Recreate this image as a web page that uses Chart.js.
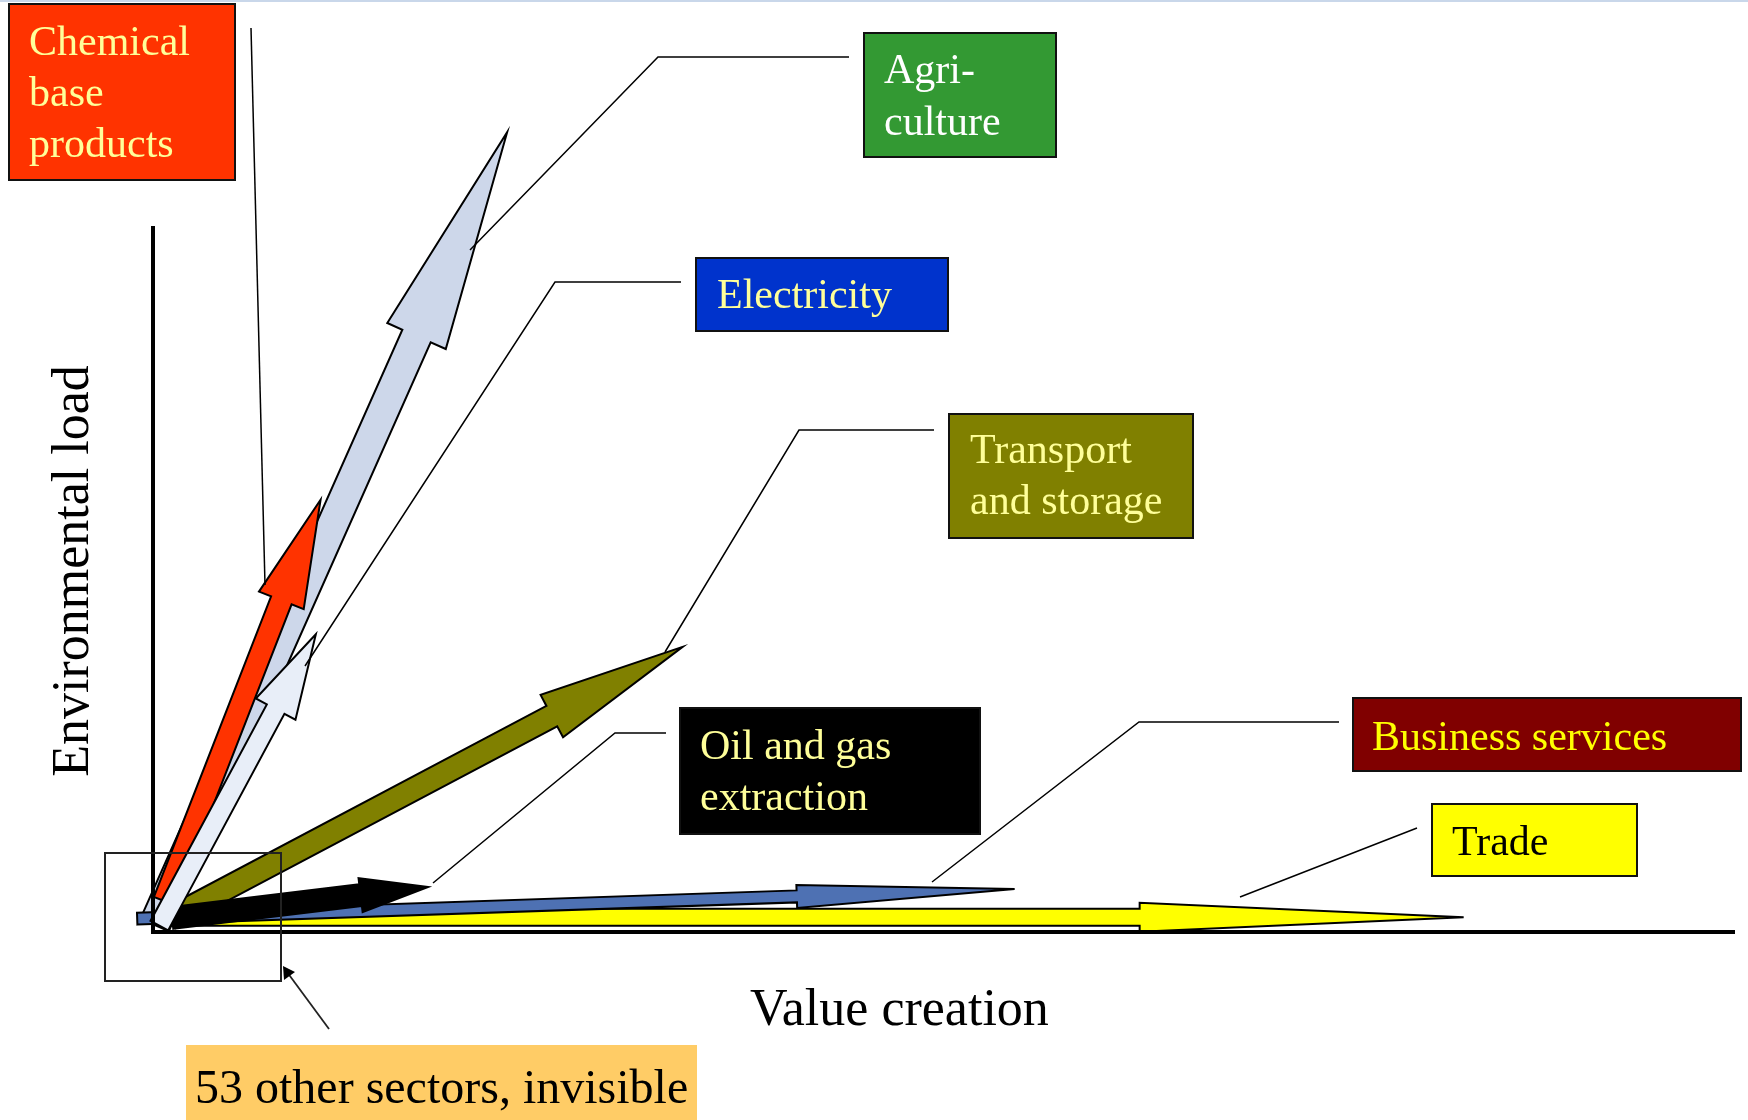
<!DOCTYPE html>
<html>
<head>
<meta charset="utf-8">
<title>Value creation and environmental load by sector</title>
<script src="https://cdn.jsdelivr.net/npm/chart.js@4.4.1/dist/chart.umd.min.js"></script>
<style>
  html, body { margin: 0; padding: 0; background: #fff; }
  canvas { display: block; }
</style>
</head>
<body>
<canvas id="chart" width="1748" height="1120"></canvas>
<script>
// sectors in drawing order (first is drawn at the bottom)
const sectors = ["Trade", "Agriculture", "Transport and storage", "Business services",
                 "Oil and gas extraction", "Chemical base products", "Electricity"];
// where each arrow starts
const tailValue = [0.4, 0.1, 1.1, -1.0, 1.2, 0.7, 0.4];
const tailLoad = [2.1, 1.0, 2.0, 1.9, 2.0, 4.4, 0.9];
// where each arrow points to
const valueCreation = [82.9, 22.4, 33.5, 54.5, 17.4, 10.6, 10.3];
const environmentalLoad = [2.1, 113.6, 40.5, 6.1, 6.4, 61.4, 42.3];

const FONT = '"Liberation Serif", "Times New Roman", serif';

// arrow looks (pixels)
const arrowStyles = [
    { fill: "#FFFF00", shaft: 17, head: 29, headLen: 324 },
    { fill: "#CDD7EA", shaft: 31, head: 64, headLen: 223 },
    { fill: "#808000", shaft: 23, head: 48, headLen: 148 },
    { fill: "#4E71B3", shaft: 12, head: 23, headLen: 218 },
    { fill: "#000000", shaft: 22, head: 34, headLen: 68 },
    { fill: "#FF3300", shaft: 22, head: 48, headLen: 108 },
    { fill: "#E8EEF8", shaft: 20, head: 45, headLen: 85 },
];

// label boxes and their leader lines (pixels)
const labelBoxes = [
    { lines: ["Chemical", "base", "products"], box: [9, 4, 226, 176], fill: "#FF3300", color: "#FFFF99",
      textX: 29, baselines: [55, 106, 157], leader: [[251, 28], [265, 585]] },
    { lines: ["Agri-", "culture"], box: [864, 33, 192, 124], fill: "#339933", color: "#FFFFFF",
      textX: 884, baselines: [83, 135], leader: [[849, 57], [658, 57], [470, 250]] },
    { lines: ["Electricity"], box: [696, 258, 252, 73], fill: "#0033CC", color: "#FFFF99",
      textX: 717, baselines: [308], leader: [[681, 282], [555, 282], [305, 666]] },
    { lines: ["Transport", "and storage"], box: [949, 414, 244, 124], fill: "#808000", color: "#FFFF99",
      textX: 970, baselines: [463, 514], leader: [[934, 430], [799, 430], [665, 652]] },
    { lines: ["Oil and gas", "extraction"], box: [680, 708, 300, 126], fill: "#000000", color: "#FFFF99",
      textX: 700, baselines: [759, 810], leader: [[666, 733], [615, 733], [433, 883]] },
    { lines: ["Business services"], box: [1353, 698, 388, 73], fill: "#800000", color: "#FFFF00",
      textX: 1372, baselines: [750], leader: [[1339, 722], [1139, 722], [932, 882]] },
    { lines: ["Trade"], box: [1432, 804, 205, 72], fill: "#FFFF00", color: "#000000",
      textX: 1452, baselines: [855], leader: [[1417, 828], [1240, 897]] },
];

function blockArrow(ctx, x0, y0, x1, y1, s) {
    const dx = x1 - x0, dy = y1 - y0, len = Math.hypot(dx, dy);
    const ux = dx / len, uy = dy / len, nx = -uy, ny = ux;
    const bx = x1 - ux * s.headLen, by = y1 - uy * s.headLen;
    const w = s.shaft / 2, h = s.head / 2;
    ctx.beginPath();
    ctx.moveTo(x0 + nx * w, y0 + ny * w);
    ctx.lineTo(bx + nx * w, by + ny * w);
    ctx.lineTo(bx + nx * h, by + ny * h);
    ctx.lineTo(x1, y1);
    ctx.lineTo(bx - nx * h, by - ny * h);
    ctx.lineTo(bx - nx * w, by - ny * w);
    ctx.lineTo(x0 - nx * w, y0 - ny * w);
    ctx.closePath();
    ctx.fillStyle = s.fill;
    ctx.fill();
    ctx.lineWidth = 2;
    ctx.lineJoin = "miter";
    ctx.strokeStyle = "#000";
    ctx.stroke();
}

const arrowPlugin = {
    id: "sectorArrows",
    afterDatasetsDraw(chart) {
        const ctx = chart.ctx, xs = chart.scales.x, ys = chart.scales.y;
        ctx.save();
        sectors.forEach((name, i) => {
            blockArrow(ctx,
                xs.getPixelForValue(tailValue[i]), ys.getPixelForValue(tailLoad[i]),
                xs.getPixelForValue(valueCreation[i]), ys.getPixelForValue(environmentalLoad[i]),
                arrowStyles[i]);
        });
        ctx.restore();
    }
};

const labelPlugin = {
    id: "sectorLabels",
    afterDraw(chart) {
        const ctx = chart.ctx;
        ctx.save();
        // thin line along the top of the slide
        ctx.fillStyle = "#C9D7EA";
        ctx.fillRect(0, 0, chart.width, 2);

        // leader lines
        ctx.strokeStyle = "#000";
        ctx.lineWidth = 1.5;
        labelBoxes.forEach(l => {
            ctx.beginPath();
            l.leader.forEach((p, k) => k ? ctx.lineTo(p[0], p[1]) : ctx.moveTo(p[0], p[1]));
            ctx.stroke();
        });

        // boxes
        ctx.font = "42px " + FONT;
        ctx.textBaseline = "alphabetic";
        ctx.textAlign = "left";
        labelBoxes.forEach(l => {
            const [x, y, w, h] = l.box;
            ctx.fillStyle = l.fill;
            ctx.fillRect(x, y, w, h);
            ctx.lineWidth = 2;
            ctx.strokeStyle = "#111";
            ctx.strokeRect(x, y, w, h);
            ctx.fillStyle = l.color;
            l.lines.forEach((t, k) => ctx.fillText(t, l.textX, l.baselines[k]));
        });

        // box round the origin and its pointer
        ctx.strokeStyle = "#222";
        ctx.lineWidth = 2;
        ctx.strokeRect(105, 853, 176, 128);
        ctx.lineWidth = 1.8;
        ctx.beginPath();
        ctx.moveTo(329, 1029);
        ctx.lineTo(287, 972);
        ctx.stroke();
        ctx.fillStyle = "#000";
        ctx.beginPath();
        ctx.moveTo(283, 966);
        ctx.lineTo(295, 972);
        ctx.lineTo(284, 980);
        ctx.closePath();
        ctx.fill();

        ctx.fillStyle = "#FFCC66";
        ctx.fillRect(186, 1045, 511, 75);
        ctx.fillStyle = "#000";
        ctx.font = "48px " + FONT;
        ctx.fillText("53 other sectors, invisible", 195, 1103);

        // axis titles
        ctx.font = "52px " + FONT;
        ctx.fillText("Value creation", 750, 1025);
        ctx.translate(88, 571);
        ctx.rotate(-Math.PI / 2);
        ctx.textAlign = "center";
        ctx.fillText("Environmental load", 0, 0);
        ctx.restore();
    }
};

new Chart(document.getElementById("chart"), {
    type: "scatter",
    data: {
        datasets: sectors.map((name, i) => ({
            label: name,
            data: [{ x: tailValue[i], y: tailLoad[i] }, { x: valueCreation[i], y: environmentalLoad[i] }],
            pointRadius: 0,
            showLine: false,
        })),
    },
    options: {
        responsive: false,
        animation: false,
        layout: { padding: { left: 153, right: 14, top: 228, bottom: 188 } },
        plugins: { legend: { display: false }, tooltip: { enabled: false } },
        scales: {
            x: {
                type: "linear", min: 0, max: 100,
                grid: { display: false, drawTicks: false },
                border: { display: true, color: "#000", width: 4, z: 1 },
                ticks: { display: false },
            },
            y: {
                type: "linear", min: 0, max: 100,
                grid: { display: false, drawTicks: false },
                border: { display: true, color: "#000", width: 4, z: 1 },
                ticks: { display: false },
            },
        },
    },
    plugins: [arrowPlugin, labelPlugin],
});
</script>
</body>
</html>
